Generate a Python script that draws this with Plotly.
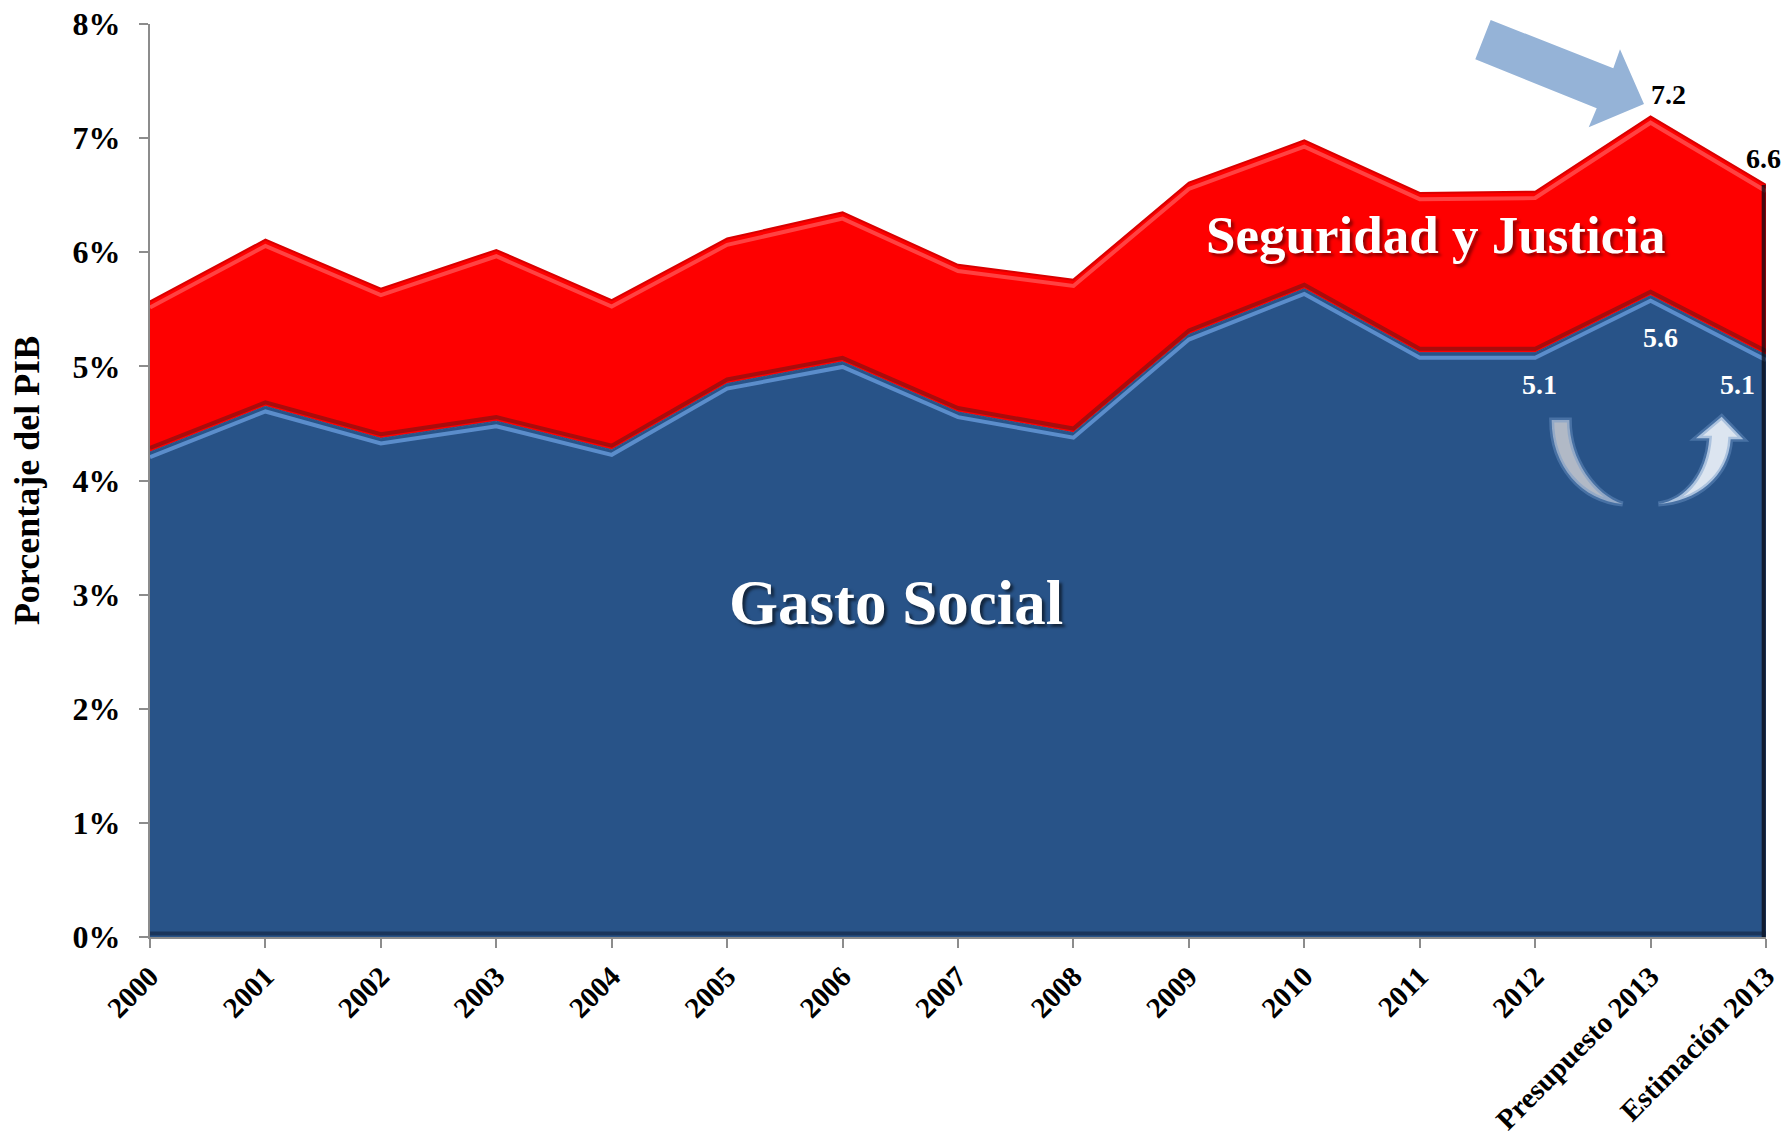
import plotly.graph_objects as go

categories = ["2000", "2001", "2002", "2003", "2004", "2005", "2006", "2007",
              "2008", "2009", "2010", "2011", "2012", "Presupuesto 2013", "Estimación 2013"]
gasto_social = [4.25, 4.65, 4.37, 4.52, 4.27, 4.85, 5.04, 4.60, 4.42, 5.28, 5.68, 5.12, 5.12, 5.62, 5.10]
total_con_seguridad = [5.57, 6.11, 5.68, 6.02, 5.58, 6.12, 6.35, 5.89, 5.76, 6.61, 6.98, 6.52, 6.53, 7.19, 6.59]
y_ticks = [0, 1, 2, 3, 4, 5, 6, 7, 8]

FONT = "Liberation Serif"
xs = list(range(len(categories)))

# figure pixel geometry (page body margin removed via post_script)
OFF = 0
W, H = 1788, 1145
ML, MR, MT, MB = 150, 22, 24, 208
PW, PH = W - ML - MR, H - MT - MB


def pp(X, Y):
    """page pixel -> paper coords"""
    return (X - OFF - ML) / PW, (OFF + H - MB - Y) / PH


def path_from(cmds):
    out = []
    for c in cmds:
        op, pts = c[0], c[1:]
        s = op
        for (X, Y) in pts:
            px, py = pp(X, Y)
            s += f" {px:.5f},{py:.5f}"
        out.append(s)
    return " ".join(out) + " Z"


def z2(zx, zy):
    return (1400 + zx / 3, 300 + zy / 3)


fig = go.Figure()

# Gasto Social area
fig.add_trace(go.Scatter(
    x=xs, y=gasto_social, mode="lines", fill="tozeroy",
    fillcolor="#285388", line=dict(color="#285388", width=1),
    hoverinfo="skip", showlegend=False))

# Seguridad y Justicia area (stacked on top)
fig.add_trace(go.Scatter(
    x=xs, y=total_con_seguridad, mode="lines", fill="tonexty",
    fillcolor="#FE0000", line=dict(color="#D80000", width=2),
    hoverinfo="skip", showlegend=False))

# bevel style edges
fig.add_trace(go.Scatter(
    x=xs, y=[v - 0.055 for v in total_con_seguridad], mode="lines",
    line=dict(color="rgba(255,120,120,0.55)", width=4),
    hoverinfo="skip", showlegend=False))
fig.add_trace(go.Scatter(
    x=xs, y=[v + 0.035 for v in gasto_social], mode="lines",
    line=dict(color="#A80C0C", width=4),
    hoverinfo="skip", showlegend=False))
fig.add_trace(go.Scatter(
    x=xs, y=[v - 0.045 for v in gasto_social], mode="lines",
    line=dict(color="#5B8DCB", width=4),
    hoverinfo="skip", showlegend=False))
# dark right edge
fig.add_trace(go.Scatter(
    x=[xs[-1] - 0.02, xs[-1] - 0.02], y=[0, total_con_seguridad[-1]], mode="lines",
    line=dict(color="rgba(10,10,20,0.75)", width=4),
    hoverinfo="skip", showlegend=False))
# dark bottom edge
fig.add_trace(go.Scatter(
    x=[xs[0], xs[-1]], y=[0.03, 0.03], mode="lines",
    line=dict(color="rgba(15,30,55,0.55)", width=4),
    hoverinfo="skip", showlegend=False))

annotations = []
lbl = dict(family=FONT, size=28, weight="bold")
annotations.append(dict(x=13, y=total_con_seguridad[13], text="7.2", showarrow=False, xanchor="center",
                        xshift=18, yshift=22, font=dict(lbl, color="black")))
annotations.append(dict(x=14, y=total_con_seguridad[14], text="6.6", showarrow=False, xanchor="center",
                        xshift=-3, yshift=26, font=dict(lbl, color="black")))
annotations.append(dict(x=12, y=gasto_social[12], text="5.1", showarrow=False, xanchor="center",
                        xshift=4, yshift=-32, font=dict(lbl, color="white")))
annotations.append(dict(x=13, y=gasto_social[13], text="5.6", showarrow=False, xanchor="center",
                        xshift=10, yshift=-42, font=dict(lbl, color="white")))
annotations.append(dict(x=14, y=gasto_social[14], text="5.1", showarrow=False, xanchor="center",
                        xshift=-29, yshift=-30, font=dict(lbl, color="white")))

# series labels
gx, gy = pp(896, 603)
annotations.append(dict(xref="paper", yref="paper", x=gx, y=gy, text="Gasto Social", showarrow=False,
                        xanchor="center", yanchor="middle",
                        font=dict(family=FONT, size=63, color="white", weight="bold",
                                  shadow="3px 3px 3px rgba(0,0,0,0.55)")))
sx, sy = pp(1435, 235)
annotations.append(dict(xref="paper", yref="paper", x=sx, y=sy, text="Seguridad y Justicia", showarrow=False,
                        xanchor="center", yanchor="middle",
                        font=dict(family=FONT, size=53, color="white", weight="bold",
                                  shadow="3px 3px 3px rgba(80,0,0,0.6)")))

shapes = []
# big blue arrow pointing to 7.2
blue_arrow = path_from([
    ("M", (1490.7, 20.0)),
    ("L", (1613.3, 68.3)),
    ("L", (1620.0, 49.3)),
    ("L", (1644.0, 104.0)),
    ("L", (1588.7, 127.3)),
    ("L", (1596.7, 108.3)),
    ("L", (1475.3, 59.3)),
])
shapes.append(dict(type="path", xref="paper", yref="paper", path=blue_arrow,
                   fillcolor="#95B3D7", line=dict(width=0), layer="above"))

# U-turn arrow (left grey piece, right white piece)
left_piece = path_from([
    ("M", z2(455, 360)),
    ("L", z2(508, 360)),
    ("C", z2(508, 480), z2(585, 585), z2(668, 612)),
    ("C", z2(545, 600), z2(455, 500), z2(455, 360)),
])
right_piece = path_from([
    ("M", z2(775, 612)),
    ("C", z2(860, 600), z2(920, 520), z2(928, 415)),
    ("L", z2(888, 415)),
    ("L", z2(965, 350)),
    ("L", z2(1030, 418)),
    ("L", z2(992, 418)),
    ("C", z2(985, 530), z2(890, 605), z2(775, 612)),
])
for pth, col in ((left_piece, "#B1B9C6"), (right_piece, "#DCE5F0")):
    shapes.append(dict(type="path", xref="paper", yref="paper", path=pth,
                       fillcolor=col, line=dict(color="rgba(110,150,200,0.45)", width=5), layer="above"))

fig.update_layout(
    width=W, height=H,
    margin=dict(l=ML, r=MR, t=MT, b=MB, autoexpand=False),
    paper_bgcolor="white", plot_bgcolor="white",
    annotations=annotations, shapes=shapes,
    xaxis=dict(
        range=[0, len(categories) - 1], tickmode="array", tickvals=xs,
        ticktext=categories, tickangle=-45, automargin=False,
        ticklabeloverflow="allow",
        tickfont=dict(family=FONT, size=29, color="black", weight="bold"),
        showline=True, linecolor="#8C8C8C", linewidth=2,
        ticks="outside", ticklen=9, tickcolor="#8C8C8C", tickwidth=2,
        showgrid=False, zeroline=False, fixedrange=True,
    ),
    yaxis=dict(
        range=[0, 8], tickmode="array", tickvals=y_ticks,
        ticktext=[f"{v}%" for v in y_ticks], automargin=False,
        ticklabeloverflow="allow",
        tickfont=dict(family=FONT, size=32, color="black", weight="bold"),
        showline=True, linecolor="#8C8C8C", linewidth=2,
        ticks="outside", ticklen=9, tickcolor="#8C8C8C", tickwidth=2,
        ticklabelstandoff=12,
        showgrid=False, zeroline=False, fixedrange=True,
        title=dict(text="Porcentaje del PIB", standoff=22,
                   font=dict(family=FONT, size=36, color="black", weight="bold")),
    ),
)

fig.write_html("out.html",
               config={"displayModeBar": False},
               post_script="document.body.style.margin='0';document.body.style.overflow='hidden';")
